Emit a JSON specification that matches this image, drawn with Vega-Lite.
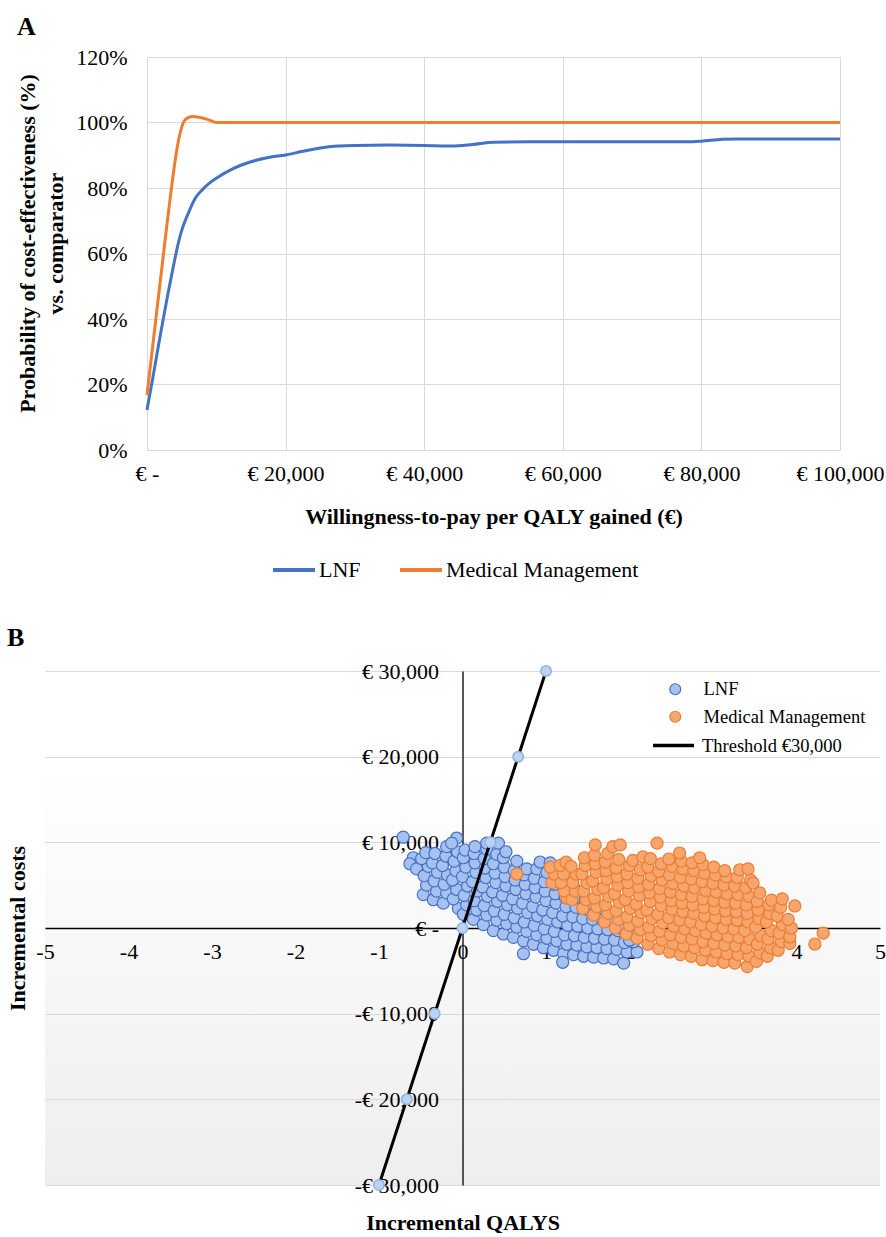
{
  "$schema": "https://vega.github.io/schema/vega-lite/v6.json",
  "background": "white",
  "padding": {"left": 6, "top": 14, "right": 0, "bottom": 0},
  "spacing": 44,
  "resolve": {
    "scale": {"color": "independent", "fill": "independent", "stroke": "independent", "strokeDash": "independent"},
    "legend": {"color": "independent", "fill": "independent", "stroke": "independent", "strokeDash": "independent"}
  },
  "config": {
    "font": "Liberation Serif",
    "view": {"stroke": null},
    "axis": {"labelFont": "Liberation Serif", "titleFont": "Liberation Serif", "labelColor": "black", "titleColor": "black", "labelFontSize": 22, "titleFontSize": 22, "titleFontWeight": "bold", "gridColor": "#d9d9d9", "gridWidth": 1, "ticks": false, "tickSize": 0, "labelFlush": false, "labelOverlap": false},
    "legend": {"labelFont": "Liberation Serif", "labelColor": "black"},
    "title": {"font": "Liberation Serif", "fontSize": 26, "fontWeight": "bold", "color": "black", "anchor": "start", "frame": "group", "baseline": "alphabetic"}
  },
  "datasets": {
    "ceac": [
      {"wtp":0,"p":0.122,"series":"LNF"},{"wtp":1000,"p":0.24,"series":"LNF"},{"wtp":2000,"p":0.36,"series":"LNF"},{"wtp":3000,"p":0.475,"series":"LNF"},{"wtp":3800,"p":0.56,"series":"LNF"},{"wtp":4500,"p":0.63,"series":"LNF"},{"wtp":5000,"p":0.67,"series":"LNF"},{"wtp":6000,"p":0.725,"series":"LNF"},{"wtp":7000,"p":0.77,"series":"LNF"},{"wtp":8000,"p":0.795,"series":"LNF"},{"wtp":9000,"p":0.815,"series":"LNF"},{"wtp":10000,"p":0.83,"series":"LNF"},{"wtp":12500,"p":0.86,"series":"LNF"},{"wtp":15000,"p":0.88,"series":"LNF"},{"wtp":17500,"p":0.893,"series":"LNF"},{"wtp":20000,"p":0.901,"series":"LNF"},{"wtp":22500,"p":0.912,"series":"LNF"},{"wtp":25000,"p":0.922,"series":"LNF"},{"wtp":27500,"p":0.928,"series":"LNF"},{"wtp":30000,"p":0.93,"series":"LNF"},{"wtp":35000,"p":0.931,"series":"LNF"},{"wtp":40000,"p":0.93,"series":"LNF"},{"wtp":44000,"p":0.928,"series":"LNF"},{"wtp":47000,"p":0.933,"series":"LNF"},{"wtp":50000,"p":0.94,"series":"LNF"},{"wtp":55000,"p":0.941,"series":"LNF"},{"wtp":60000,"p":0.941,"series":"LNF"},{"wtp":70000,"p":0.941,"series":"LNF"},{"wtp":78000,"p":0.941,"series":"LNF"},{"wtp":80000,"p":0.943,"series":"LNF"},{"wtp":83000,"p":0.949,"series":"LNF"},{"wtp":85000,"p":0.95,"series":"LNF"},{"wtp":90000,"p":0.95,"series":"LNF"},{"wtp":100000,"p":0.95,"series":"LNF"},
      {"wtp":0,"p":0.168,"series":"Medical Management"},{"wtp":1000,"p":0.35,"series":"Medical Management"},{"wtp":2000,"p":0.53,"series":"Medical Management"},{"wtp":3000,"p":0.71,"series":"Medical Management"},{"wtp":3500,"p":0.795,"series":"Medical Management"},{"wtp":4000,"p":0.875,"series":"Medical Management"},{"wtp":4500,"p":0.94,"series":"Medical Management"},{"wtp":5000,"p":0.985,"series":"Medical Management"},{"wtp":5500,"p":1.008,"series":"Medical Management"},{"wtp":6500,"p":1.018,"series":"Medical Management"},{"wtp":7500,"p":1.016,"series":"Medical Management"},{"wtp":8500,"p":1.011,"series":"Medical Management"},{"wtp":9500,"p":1.003,"series":"Medical Management"},{"wtp":10000,"p":1.0,"series":"Medical Management"},{"wtp":20000,"p":1.0,"series":"Medical Management"},{"wtp":40000,"p":1.0,"series":"Medical Management"},{"wtp":60000,"p":1.0,"series":"Medical Management"},{"wtp":80000,"p":1.0,"series":"Medical Management"},{"wtp":100000,"p":1.0,"series":"Medical Management"}
    ],
    "lnf": [
      {"q":-0.71,"c":10600},{"q":-0.59,"c":8200},{"q":-0.63,"c":7500},{"q":-0.55,"c":6900},
      {"q":-0.47,"c":3900},{"q":-0.43,"c":5000},{"q":-0.46,"c":6100},{"q":-0.41,"c":7200},{"q":-0.49,"c":8100},{"q":-0.44,"c":8800},
      {"q":-0.35,"c":3300},{"q":-0.31,"c":4300},{"q":-0.34,"c":5500},{"q":-0.30,"c":6500},{"q":-0.36,"c":7600},{"q":-0.33,"c":8700},
      {"q":-0.23,"c":2900},{"q":-0.19,"c":4100},{"q":-0.22,"c":5100},{"q":-0.18,"c":6200},{"q":-0.24,"c":7300},{"q":-0.20,"c":8400},{"q":-0.19,"c":9500},
      {"q":-0.05,"c":2300},{"q":-0.11,"c":3400},{"q":-0.07,"c":4500},{"q":-0.12,"c":5600},{"q":-0.08,"c":6700},{"q":-0.10,"c":7800},{"q":-0.06,"c":8900},{"q":-0.07,"c":10500},{"q":-0.13,"c":9900},
      {"q":0.01,"c":1600},{"q":0.05,"c":2700},{"q":0.02,"c":3800},{"q":0.06,"c":4900},{"q":0.00,"c":6000},{"q":0.04,"c":7100},{"q":0.01,"c":8200},{"q":0.03,"c":9100},
      {"q":0.13,"c":1000},{"q":0.17,"c":2100},{"q":0.14,"c":3200},{"q":0.18,"c":4300},{"q":0.12,"c":5400},{"q":0.16,"c":6500},{"q":0.15,"c":7600},{"q":0.14,"c":8700},{"q":0.15,"c":9500},
      {"q":0.25,"c":400},{"q":0.29,"c":1500},{"q":0.26,"c":2600},{"q":0.30,"c":3700},{"q":0.24,"c":4800},{"q":0.28,"c":5900},{"q":0.27,"c":7000},{"q":0.26,"c":8100},{"q":0.29,"c":9200},{"q":0.29,"c":9900},
      {"q":0.37,"c":-300},{"q":0.41,"c":900},{"q":0.38,"c":2000},{"q":0.42,"c":3100},{"q":0.36,"c":4200},{"q":0.40,"c":5300},{"q":0.39,"c":6400},{"q":0.37,"c":7500},{"q":0.41,"c":8600},{"q":0.43,"c":9900},
      {"q":0.49,"c":-700},{"q":0.53,"c":500},{"q":0.50,"c":1600},{"q":0.54,"c":2700},{"q":0.48,"c":3800},{"q":0.52,"c":4900},{"q":0.51,"c":6000},{"q":0.50,"c":7100},{"q":0.49,"c":8200},{"q":0.52,"c":8900},
      {"q":0.61,"c":-1100},{"q":0.65,"c":100},{"q":0.62,"c":1200},{"q":0.66,"c":2300},{"q":0.60,"c":3400},{"q":0.64,"c":4500},{"q":0.63,"c":5600},{"q":0.62,"c":6700},{"q":0.65,"c":7800},
      {"q":0.73,"c":-1500},{"q":0.77,"c":-400},{"q":0.74,"c":700},{"q":0.78,"c":1800},{"q":0.72,"c":2900},{"q":0.76,"c":4000},{"q":0.75,"c":5100},{"q":0.74,"c":6200},{"q":0.77,"c":6900},{"q":0.73,"c":-3000},
      {"q":0.85,"c":-1900},{"q":0.89,"c":-800},{"q":0.86,"c":300},{"q":0.90,"c":1400},{"q":0.84,"c":2500},{"q":0.88,"c":3600},{"q":0.87,"c":4700},{"q":0.86,"c":5800},{"q":0.89,"c":6900},{"q":0.93,"c":7700},
      {"q":0.97,"c":-2300},{"q":1.01,"c":-1200},{"q":0.98,"c":-100},{"q":1.02,"c":1000},{"q":0.96,"c":2100},{"q":1.00,"c":3200},{"q":0.99,"c":4300},{"q":0.98,"c":5400},{"q":1.01,"c":6500},{"q":1.05,"c":7600},
      {"q":1.09,"c":-2600},{"q":1.13,"c":-1500},{"q":1.10,"c":-400},{"q":1.14,"c":700},{"q":1.08,"c":1800},{"q":1.12,"c":2900},{"q":1.11,"c":4000},{"q":1.10,"c":5100},{"q":1.13,"c":6200},
      {"q":1.21,"c":-3000},{"q":1.25,"c":-1900},{"q":1.22,"c":-800},{"q":1.26,"c":300},{"q":1.20,"c":1400},{"q":1.24,"c":2500},{"q":1.23,"c":3600},{"q":1.22,"c":4700},{"q":1.20,"c":-4000},
      {"q":1.33,"c":-3100},{"q":1.37,"c":-2000},{"q":1.34,"c":-900},{"q":1.38,"c":200},{"q":1.32,"c":1300},{"q":1.36,"c":2400},{"q":1.35,"c":3500},{"q":1.34,"c":4600},
      {"q":1.45,"c":-3300},{"q":1.49,"c":-2200},{"q":1.46,"c":-1100},{"q":1.50,"c":0},{"q":1.44,"c":1100},{"q":1.48,"c":2200},{"q":1.47,"c":3300},
      {"q":1.57,"c":-3400},{"q":1.61,"c":-2300},{"q":1.58,"c":-1200},{"q":1.62,"c":-100},{"q":1.56,"c":1000},{"q":1.60,"c":2100},{"q":1.53,"c":2900},
      {"q":1.69,"c":-3500},{"q":1.73,"c":-2400},{"q":1.70,"c":-1300},{"q":1.74,"c":-200},{"q":1.68,"c":900},{"q":1.77,"c":1800},
      {"q":1.81,"c":-3600},{"q":1.85,"c":-2500},{"q":1.82,"c":-1400},{"q":1.86,"c":-300},{"q":1.80,"c":700},
      {"q":1.93,"c":-4100},{"q":1.97,"c":-2800},{"q":1.94,"c":-1700},{"q":1.98,"c":-600},{"q":1.93,"c":-200},
      {"q":2.09,"c":-2800},{"q":2.05,"c":-1600},{"q":2.09,"c":-800},{"q":2.00,"c":-1400}
    ],
    "mm": [
      {"q":0.65,"c":6300},{"q":1.25,"c":3500},
      {"q":1.07,"c":5300},{"q":1.10,"c":6300},{"q":1.05,"c":7100},
      {"q":1.22,"c":4300},{"q":1.18,"c":5300},{"q":1.21,"c":6300},{"q":1.17,"c":7300},{"q":1.24,"c":7700},
      {"q":1.31,"c":3300},{"q":1.35,"c":4300},{"q":1.32,"c":5300},{"q":1.36,"c":6300},{"q":1.30,"c":7200},
      {"q":1.44,"c":2300},{"q":1.48,"c":3300},{"q":1.45,"c":4300},{"q":1.49,"c":5300},{"q":1.43,"c":6300},{"q":1.47,"c":7300},{"q":1.46,"c":8200},
      {"q":1.57,"c":1500},{"q":1.61,"c":2500},{"q":1.58,"c":3500},{"q":1.62,"c":4500},{"q":1.56,"c":5500},{"q":1.60,"c":6500},{"q":1.59,"c":7500},{"q":1.58,"c":8500},{"q":1.59,"c":9700},
      {"q":1.70,"c":700},{"q":1.74,"c":1700},{"q":1.71,"c":2700},{"q":1.75,"c":3700},{"q":1.69,"c":4700},{"q":1.73,"c":5700},{"q":1.72,"c":6700},{"q":1.71,"c":7700},{"q":1.74,"c":8700},
      {"q":1.83,"c":0},{"q":1.87,"c":1000},{"q":1.84,"c":2000},{"q":1.88,"c":3000},{"q":1.82,"c":4000},{"q":1.86,"c":5000},{"q":1.85,"c":6000},{"q":1.84,"c":7000},{"q":1.87,"c":8000},{"q":1.80,"c":9500},{"q":1.89,"c":9700},
      {"q":1.96,"c":-700},{"q":2.00,"c":300},{"q":1.97,"c":1300},{"q":2.01,"c":2300},{"q":1.95,"c":3300},{"q":1.99,"c":4300},{"q":1.98,"c":5300},{"q":1.97,"c":6300},{"q":2.00,"c":7300},{"q":2.04,"c":7900},
      {"q":2.09,"c":-1200},{"q":2.13,"c":-200},{"q":2.10,"c":800},{"q":2.14,"c":1800},{"q":2.08,"c":2800},{"q":2.12,"c":3800},{"q":2.11,"c":4800},{"q":2.10,"c":5800},{"q":2.13,"c":6800},{"q":2.16,"c":8300},
      {"q":2.22,"c":-1900},{"q":2.26,"c":-900},{"q":2.23,"c":100},{"q":2.27,"c":1100},{"q":2.21,"c":2100},{"q":2.25,"c":3100},{"q":2.24,"c":4100},{"q":2.23,"c":5100},{"q":2.26,"c":6100},{"q":2.22,"c":7100},{"q":2.25,"c":8100},
      {"q":2.35,"c":-2400},{"q":2.39,"c":-1400},{"q":2.36,"c":-400},{"q":2.40,"c":600},{"q":2.34,"c":1600},{"q":2.38,"c":2600},{"q":2.37,"c":3600},{"q":2.36,"c":4600},{"q":2.39,"c":5600},{"q":2.35,"c":6600},{"q":2.38,"c":7500},{"q":2.33,"c":9900},
      {"q":2.48,"c":-2800},{"q":2.52,"c":-1800},{"q":2.49,"c":-800},{"q":2.53,"c":200},{"q":2.47,"c":1200},{"q":2.51,"c":2200},{"q":2.50,"c":3200},{"q":2.49,"c":4200},{"q":2.52,"c":5200},{"q":2.48,"c":6200},{"q":2.51,"c":7200},{"q":2.47,"c":8050},
      {"q":2.61,"c":-3100},{"q":2.65,"c":-2100},{"q":2.62,"c":-1100},{"q":2.66,"c":-100},{"q":2.60,"c":900},{"q":2.64,"c":1900},{"q":2.63,"c":2900},{"q":2.62,"c":3900},{"q":2.65,"c":4900},{"q":2.61,"c":5900},{"q":2.64,"c":6900},{"q":2.62,"c":7800},{"q":2.60,"c":8750},
      {"q":2.74,"c":-3300},{"q":2.78,"c":-2300},{"q":2.75,"c":-1300},{"q":2.79,"c":-300},{"q":2.73,"c":700},{"q":2.77,"c":1700},{"q":2.76,"c":2700},{"q":2.75,"c":3700},{"q":2.78,"c":4700},{"q":2.74,"c":5700},{"q":2.77,"c":6700},{"q":2.75,"c":7600},
      {"q":2.87,"c":-3700},{"q":2.91,"c":-2600},{"q":2.88,"c":-1600},{"q":2.92,"c":-600},{"q":2.86,"c":400},{"q":2.90,"c":1400},{"q":2.89,"c":2400},{"q":2.88,"c":3400},{"q":2.91,"c":4400},{"q":2.87,"c":5400},{"q":2.90,"c":6400},{"q":2.88,"c":7400},{"q":2.84,"c":8200},
      {"q":3.00,"c":-3800},{"q":3.04,"c":-2800},{"q":3.01,"c":-1800},{"q":3.05,"c":-800},{"q":2.99,"c":200},{"q":3.03,"c":1200},{"q":3.02,"c":2200},{"q":3.01,"c":3200},{"q":3.04,"c":4200},{"q":3.00,"c":5200},{"q":3.03,"c":6200},{"q":3.01,"c":7100},
      {"q":3.13,"c":-4000},{"q":3.17,"c":-3000},{"q":3.14,"c":-2000},{"q":3.18,"c":-1000},{"q":3.12,"c":0},{"q":3.16,"c":1000},{"q":3.15,"c":2000},{"q":3.14,"c":3000},{"q":3.17,"c":4000},{"q":3.13,"c":5000},{"q":3.16,"c":6000},{"q":3.14,"c":6700},
      {"q":3.26,"c":-4100},{"q":3.30,"c":-3100},{"q":3.27,"c":-2100},{"q":3.31,"c":-1100},{"q":3.25,"c":-100},{"q":3.29,"c":900},{"q":3.28,"c":1900},{"q":3.27,"c":2900},{"q":3.30,"c":3900},{"q":3.26,"c":4900},{"q":3.29,"c":5900},{"q":3.32,"c":6800},
      {"q":3.41,"c":-4500},{"q":3.43,"c":-3300},{"q":3.40,"c":-2300},{"q":3.44,"c":-1300},{"q":3.38,"c":-300},{"q":3.42,"c":700},{"q":3.41,"c":1700},{"q":3.40,"c":2700},{"q":3.43,"c":3700},{"q":3.39,"c":4700},{"q":3.45,"c":5600},{"q":3.42,"c":6900},
      {"q":3.52,"c":-3900},{"q":3.56,"c":-2900},{"q":3.53,"c":-1900},{"q":3.57,"c":-900},{"q":3.51,"c":100},{"q":3.55,"c":1100},{"q":3.54,"c":2100},{"q":3.53,"c":3100},{"q":3.56,"c":4100},{"q":3.48,"c":5250},
      {"q":3.65,"c":-3300},{"q":3.69,"c":-2300},{"q":3.66,"c":-1300},{"q":3.70,"c":-300},{"q":3.64,"c":700},{"q":3.68,"c":1700},{"q":3.67,"c":2700},{"q":3.70,"c":3250},
      {"q":3.78,"c":-2600},{"q":3.82,"c":-1600},{"q":3.79,"c":-600},{"q":3.83,"c":400},{"q":3.77,"c":1400},{"q":3.81,"c":2400},{"q":3.83,"c":3400},
      {"q":3.92,"c":-1800},{"q":3.92,"c":-1050},{"q":3.94,"c":0},{"q":3.90,"c":1000},{"q":3.98,"c":2570},
      {"q":4.22,"c":-1870},{"q":4.32,"c":-600}
    ],
    "threshold": [
      {"q":-1,"c":-30000},{"q":-0.667,"c":-20000},{"q":-0.333,"c":-10000},{"q":0,"c":0},{"q":0.333,"c":10000},{"q":0.667,"c":20000},{"q":1,"c":30000}
    ]
  },
  "vconcat": [
    {
      "title": {"text": "A", "dx": -28, "offset": 6},
      "width": 795,
      "height": 393,
      "data": {"name": "ceac"},
      "mark": {"type": "line", "strokeWidth": 3, "interpolate": "monotone"},
      "encoding": {
        "x": {"field": "wtp", "type": "quantitative",
          "scale": {"domain": [0, 100000], "range": [102, 795], "nice": false, "zero": false},
          "axis": {"values": [0, 20000, 40000, 60000, 80000, 100000], "labelExpr": "datum.value == 0 ? '€ -' : '€ ' + format(datum.value, ',')", "labelPadding": 13, "domain": false, "grid": true, "title": "Willingness-to-pay per QALY gained (€)", "titlePadding": 22}},
        "y": {"field": "p", "type": "quantitative",
          "scale": {"domain": [0, 1.2], "nice": false},
          "axis": {"values": [0, 0.2, 0.4, 0.6, 0.8, 1, 1.2], "format": ".0%", "labelPadding": 20, "domain": false, "offset": -102, "title": ["Probability of cost-effectiveness (%)", "vs. comparator"], "titleX": -113, "titleY": 186, "titleAngle": -90, "titleBaseline": "alphabetic", "titleAlign": "center", "titleLineHeight": 28}},
        "color": {"field": "series", "type": "nominal",
          "scale": {"domain": ["LNF", "Medical Management"], "range": ["#4472c4", "#ed7d31"]},
          "legend": {"title": null, "orient": "none", "direction": "horizontal", "legendX": 226, "legendY": 490, "labelFontSize": 22, "symbolType": "stroke", "symbolSize": 1764, "symbolStrokeWidth": 4, "labelOffset": 2, "columnPadding": 31, "labelLimit": 400}}
      }
    },
    {
      "title": {"text": "B", "dx": -38, "offset": 9},
      "width": 835,
      "height": 514,
      "view": {"stroke": null, "fill": {"gradient": "linear", "x1": 0, "y1": 0, "x2": 0, "y2": 1, "stops": [{"offset": 0, "color": "#ffffff"}, {"offset": 0.18, "color": "#ffffff"}, {"offset": 1, "color": "#eeeeee"}]}},
      "encoding": {
        "x": {"field": "q", "type": "quantitative",
          "scale": {"domain": [-5, 5], "nice": false, "zero": false},
          "axis": {"values": [-5, -4, -3, -2, -1, 0, 1, 2, 3, 4, 5], "labelExpr": "datum.value < 0 ? '-' + abs(datum.value) : '' + datum.value", "offset": -257, "domain": true, "domainColor": "black", "domainWidth": 1.3, "grid": false, "labelPadding": 13, "title": "Incremental QALYS", "titleY": 301, "titleBaseline": "alphabetic"}},
        "y": {"field": "c", "type": "quantitative",
          "scale": {"domain": [-30000, 30000], "nice": false},
          "axis": {"values": [-30000, -20000, -10000, 0, 10000, 20000, 30000], "labelExpr": "datum.value == 0 ? '€ -' : (datum.value < 0 ? '-€ ' : '€ ') + format(abs(datum.value), ',')", "offset": -417.5, "domain": true, "domainColor": "black", "domainWidth": 1.3, "grid": true, "labelPadding": 24, "title": "Incremental costs", "titleX": -438, "titleAngle": -90, "titleBaseline": "alphabetic"}}
      },
      "layer": [
        {
          "data": {"name": "lnf"},
          "mark": {"type": "point", "filled": true, "size": 145, "strokeWidth": 1.2, "opacity": 1},
          "encoding": {
            "fill": {"datum": "LNF", "type": "nominal", "scale": {"domain": ["LNF", "Medical Management"], "range": ["#a6c1ef", "#f6a66c"]}, "legend": {"title": null, "orient": "none", "legendX": 621, "legendY": 9, "labelFontSize": 18.5, "symbolType": "circle", "symbolSize": 120, "symbolStrokeWidth": 1.2, "labelOffset": 19, "rowPadding": 8.5, "labelLimit": 300}},
            "stroke": {"datum": "LNF", "type": "nominal", "scale": {"domain": ["LNF", "Medical Management"], "range": ["#4472c4", "#ed7d31"]}, "legend": {"title": null, "orient": "none", "legendX": 621, "legendY": 9, "labelFontSize": 18.5, "symbolType": "circle", "symbolSize": 120, "symbolStrokeWidth": 1.2, "labelOffset": 19, "rowPadding": 8.5, "labelLimit": 300}}
          }
        },
        {
          "data": {"name": "mm"},
          "mark": {"type": "point", "filled": true, "size": 145, "strokeWidth": 1.2, "opacity": 1},
          "encoding": {
            "fill": {"datum": "Medical Management", "type": "nominal"},
            "stroke": {"datum": "Medical Management", "type": "nominal"}
          }
        },
        {
          "data": {"name": "threshold"},
          "mark": {"type": "line", "color": "black", "strokeWidth": 3},
          "encoding": {
            "strokeDash": {"datum": "Threshold €30,000", "type": "nominal", "scale": {"range": [[1, 0]]},
              "legend": {"title": null, "orient": "none", "legendX": 606, "legendY": 52, "labelFontSize": 18.5, "symbolType": "stroke", "symbolSize": 1681, "symbolStrokeWidth": 3.5, "symbolStrokeColor": "black", "symbolOpacity": 1, "labelOffset": 6, "labelLimit": 300}}
          }
        },
        {
          "data": {"name": "threshold"},
          "mark": {"type": "point", "filled": true, "fill": "#bdd3f1", "stroke": "#8fb3e3", "strokeWidth": 1.5, "size": 110, "opacity": 1},
          "encoding": {}
        }
      ]
    }
  ]
}
